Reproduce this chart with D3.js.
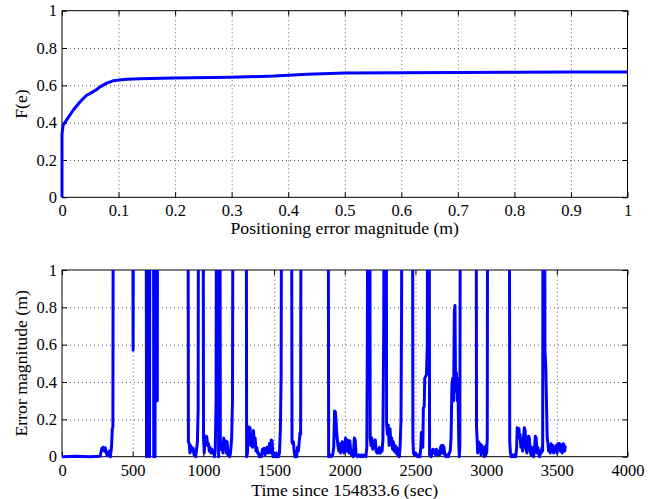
<!DOCTYPE html>
<html lang="en">
  <head>
    <meta charset="UTF-8" />
    <title>Positioning error CDF and error over time</title>
    <script src="https://d3js.org/d3.v7.min.js"></script>
    <style>
      body {
        margin: 0;
        background: #fff;
      }
      svg {
        display: block;
        font-family: 'Liberation Serif', 'Times New Roman', serif;
      }
      .axis path {
        display: none;
      }
      .axis line {
        stroke: #000;
        stroke-width: 1px;
      }
      .axis text {
        font-family: 'Liberation Serif', 'Times New Roman', serif;
        font-size: 16.5px;
        fill: #000;
      }
      .grid path {
        display: none;
      }
      .grid line {
        stroke: #333;
        stroke-width: 0.8px;
        stroke-dasharray: 1, 3;
      }
      .frame {
        fill: none;
        stroke: #000;
        stroke-width: 1px;
      }
      .curve {
        fill: none;
        stroke: #0000ff;
        stroke-width: 3px;
        stroke-linejoin: round;
      }
      .title {
        font-family: 'Liberation Serif', 'Times New Roman', serif;
        font-size: 17.7px;
        fill: #000;
      }
    </style>
  </head>
  <body>
    <div id="chart"></div>
    <script>
      // top panel: empirical CDF of the positioning error
      const cdfError = [
        0, 0, 0.002, 0.008, 0.02, 0.032, 0.044, 0.05, 0.06, 0.068,
        0.079, 0.09, 0.1, 0.115, 0.138, 0.197, 0.3, 0.375, 0.434,
        0.5, 0.6, 0.7, 0.8, 0.9, 1.0,
      ];
      const cdfProb = [
        0, 0.34, 0.387, 0.414, 0.468, 0.512, 0.548, 0.557, 0.575, 0.593,
        0.612, 0.624, 0.628, 0.632, 0.635, 0.639, 0.643, 0.65, 0.66,
        0.666, 0.668, 0.669, 0.67, 0.671, 0.672,
      ];
      const cdfXTicks = [0, 0.1, 0.2, 0.3, 0.4, 0.5, 0.6, 0.7, 0.8, 0.9, 1];
      const probTicks = [0, 0.2, 0.4, 0.6, 0.8, 1];

      // bottom panel: error magnitude over time [sec, m]; 2.5 = off the top
      const errorSeries = [
        [0, 0], [100, 0.002], [200, 0], [270, 0.003], [282, 0.045], [292, 0.05],
        [300, 0.03], [306, 0.048], [314, 0.02], [320, 0.005], [328, 0.02],
        [336, 0.03], [342, 0], [350, 0.05], [356, 0.15], [360, 0.16], [364, 2.5],
        [498, 2.5], [503, 0.57], [508, 2.5],
        [594, 2.5], [598, 0], [603, 0.01], [607, 2.5], [616, 2.5], [619, 0],
        [623, 2.5], [646, 2.5], [649, 0], [654, 0.1], [658, 0], [662, 2.5],
        [668, 2.5], [671, 0.44], [674, 0.3], [677, 2.5],
        [890, 2.5], [894, 0.08], [900, 0.07], [905, 0.02], [910, 0.06],
        [916, 0.05], [922, 0.03], [928, 0.045], [934, 0.01], [940, 0.03],
        [946, 0], [952, 0.04], [958, 0.08], [963, 0.26], [967, 2.5],
        [997, 2.5], [1001, 0.1], [1006, 0.02], [1012, 0.1], [1018, 0.11],
        [1024, 0.108], [1030, 0.06], [1036, 0.07], [1042, 0.03], [1048, 0.05],
        [1054, 0.02], [1060, 0.04], [1066, 0.02], [1072, 0.03], [1078, 0],
        [1084, 0.03], [1090, 0.3], [1094, 2.5], [1104, 2.5], [1108, 0],
        [1112, 2.5], [1116, 2.5], [1120, 0.08], [1126, 0.04], [1132, 0.07],
        [1138, 0.02], [1144, 0.1], [1150, 0.05], [1156, 0.085], [1162, 0.02],
        [1168, 0.08], [1174, 0.01], [1180, 0.03], [1186, 0], [1192, 0.02],
        [1200, 0.1], [1206, 0.3], [1212, 2.5],
        [1302, 2.5], [1306, 0], [1312, 0.02], [1318, 0.16], [1324, 0.1],
        [1330, 0.155], [1336, 0.06], [1342, 0.11], [1348, 0.05], [1354, 0.14],
        [1360, 0.08], [1366, 0.1], [1372, 0.03], [1378, 0.05], [1384, 0.02],
        [1390, 0.02], [1396, 0], [1402, 0.01], [1410, 0], [1418, 0.04],
        [1424, 0.02], [1430, 0.045], [1436, 0.01], [1444, 0.03], [1450, 0.05],
        [1456, 0.02], [1462, 0.04], [1468, 0.07], [1474, 0.02], [1480, 0.09],
        [1486, 0.085], [1492, 0], [1500, 0.01], [1508, 0], [1516, 0.02],
        [1522, 0], [1530, 0], [1538, 0.02], [1545, 0.15], [1550, 0.44],
        [1556, 2.5],
        [1622, 2.5], [1627, 0.08], [1632, 0.07], [1637, 0.08], [1642, 0.03],
        [1648, 0], [1654, 0.02], [1660, 0], [1666, 0.05], [1672, 0.03],
        [1678, 0.08], [1684, 0.13], [1688, 0.12], [1692, 2.5],
        [1882, 2.5], [1886, 0], [1895, 0.01], [1905, 0], [1915, 0.01],
        [1922, 0.05], [1928, 0.245], [1934, 0.24], [1940, 0.17], [1946, 0.1],
        [1952, 0.06], [1958, 0.03], [1964, 0.07], [1970, 0.02], [1976, 0.05],
        [1982, 0.08], [1988, 0.04], [1994, 0.02], [2000, 0.06], [2006, 0.1],
        [2012, 0.03], [2018, 0.09], [2024, 0.07], [2030, 0.02], [2036, 0.085],
        [2042, 0.03], [2048, 0.01], [2054, 0.02], [2060, 0], [2068, 0.1],
        [2074, 0.09], [2080, 0.01], [2090, 0], [2100, 0.01], [2110, 0],
        [2120, 0.01], [2130, 0], [2140, 0.01], [2150, 0], [2156, 0.05],
        [2160, 0.64], [2164, 2.5], [2176, 2.5], [2180, 0.1], [2186, 0.06],
        [2192, 0.1], [2198, 0.04], [2204, 0.08], [2210, 0.05], [2216, 0.09],
        [2222, 0.03], [2228, 0.02], [2234, 0.04], [2240, 0.02], [2246, 0.05],
        [2252, 0.02], [2258, 0.04], [2264, 0.03], [2270, 0.09], [2276, 0.72],
        [2280, 2.5], [2292, 2.5], [2296, 0.18], [2302, 0.12], [2308, 0.17],
        [2314, 0.06], [2320, 0.15], [2326, 0.08], [2332, 0.1], [2338, 0.04],
        [2344, 0.08], [2350, 0.03], [2356, 0.06], [2362, 0.02], [2368, 0.05],
        [2374, 0.01], [2380, 0.03], [2386, 0], [2392, 0.06], [2398, 0.2],
        [2402, 0.8], [2406, 2.5],
        [2478, 2.5], [2482, 0.1], [2486, 0.02], [2492, 0.01], [2500, 0.02],
        [2508, 0.01], [2516, 0], [2524, 0.01], [2532, 0], [2538, 0.05],
        [2542, 0.13], [2548, 0.12], [2552, 0.05], [2556, 0.26], [2562, 0.27],
        [2566, 0.42], [2572, 0.43], [2578, 0.44], [2584, 0.6], [2588, 2.5],
        [2596, 2.5], [2600, 0.01], [2606, 0.02], [2612, 0], [2618, 0.03],
        [2624, 0.04], [2630, 0.02], [2636, 0.035], [2642, 0.01], [2648, 0.04],
        [2654, 0.02], [2660, 0.01], [2666, 0.03], [2672, 0.01], [2678, 0.05],
        [2684, 0.06], [2690, 0.02], [2696, 0.06], [2702, 0.05], [2708, 0.01],
        [2716, 0], [2724, 0.01], [2732, 0], [2740, 0.02], [2746, 0.03],
        [2752, 0.1], [2758, 0.38], [2764, 0.42], [2770, 0.3], [2775, 0.78],
        [2780, 0.81], [2784, 0.35], [2790, 0.45], [2796, 0.3], [2800, 0.42],
        [2806, 0.1], [2810, 0], [2814, 0.05], [2820, 2.5],
        [2928, 2.5], [2932, 0.16], [2936, 0.1], [2940, 0.02], [2946, 0.08],
        [2952, 0.03], [2958, 0.07], [2964, 0.01], [2970, 0.06], [2976, 0.02],
        [2982, 0.05], [2988, 0], [2994, 0.04], [3000, 0.06], [3004, 0.02],
        [3008, 0.1], [3012, 2.5],
        [3163, 2.5], [3167, 0.08], [3172, 0.02], [3178, 0], [3186, 0.01],
        [3194, 0], [3202, 0.01], [3210, 0], [3216, 0.05], [3220, 0.155],
        [3226, 0.14], [3232, 0.15], [3236, 0.1], [3240, 0.12], [3246, 0.05],
        [3252, 0.09], [3258, 0.03], [3264, 0.1], [3270, 0.155], [3276, 0.14],
        [3282, 0.04], [3288, 0.02], [3294, 0.06], [3300, 0.11], [3306, 0.1],
        [3312, 0.03], [3318, 0.01], [3324, 0.05], [3330, 0.02], [3336, 0],
        [3342, 0.04], [3348, 0.11], [3354, 0.1], [3360, 0.02], [3366, 0.05],
        [3372, 0.02], [3378, 0], [3384, 0.03], [3390, 0.02], [3396, 0.05],
        [3400, 0.03], [3404, 2.5], [3412, 2.5], [3416, 0.57], [3422, 0.48],
        [3428, 0.25], [3432, 0.1], [3436, 0.08], [3442, 0.03], [3448, 0.05],
        [3454, 0.02], [3460, 0.07], [3466, 0.03], [3472, 0.06], [3478, 0.02],
        [3484, 0.05], [3490, 0.03], [3496, 0.06], [3502, 0.02], [3508, 0.07],
        [3514, 0.04], [3520, 0.07], [3526, 0.03], [3532, 0.06], [3538, 0.02],
        [3544, 0.07], [3550, 0.065], [3556, 0.03], [3560, 0.06],
      ];
      const timeTicks = [0, 500, 1000, 1500, 2000, 2500, 3000, 3500, 4000];

      const W = 651,
        H = 499;

      const svg = d3
        .select('#chart')
        .append('svg')
        .attr('width', W)
        .attr('height', H);

      const fmtDec = (d) => String(+d.toFixed(1));

      function panel(box, xDomain, xTicks, xFmt, xPad, data, xLabel, yLabel, id) {
        const x = d3.scaleLinear().domain(xDomain).range([box.l, box.r]);
        const y = d3.scaleLinear().domain([0, 1]).range([box.b, box.t]);
        const w = box.r - box.l,
          h = box.b - box.t;

        // dotted grid
        svg
          .append('g')
          .attr('class', 'grid')
          .attr('transform', `translate(0,${box.b})`)
          .call(d3.axisBottom(x).tickValues(xTicks.slice(1, -1)).tickSize(-h).tickFormat(''));
        svg
          .append('g')
          .attr('class', 'grid')
          .attr('transform', `translate(${box.l},0)`)
          .call(d3.axisLeft(y).tickValues(probTicks.slice(1, -1)).tickSize(-w).tickFormat(''));

        // the line, clipped to the box (a bit of slack at the bottom)
        svg
          .append('clipPath')
          .attr('id', id)
          .append('rect')
          .attr('x', box.l - 3)
          .attr('y', box.t)
          .attr('width', w + 6)
          .attr('height', h + 4);

        const line = d3
          .line()
          .x((d) => x(d[0]))
          .y((d) => y(d[1]));

        // inward ticks on all four sides
        svg
          .append('g')
          .attr('class', 'axis')
          .attr('transform', `translate(0,${box.b})`)
          .call(d3.axisBottom(x).tickValues(xTicks).tickSize(-5).tickPadding(xPad).tickFormat(xFmt));
        svg
          .append('g')
          .attr('class', 'axis')
          .attr('transform', `translate(0,${box.t})`)
          .call(d3.axisTop(x).tickValues(xTicks).tickSize(-5).tickFormat(''));
        svg
          .append('g')
          .attr('class', 'axis')
          .attr('transform', `translate(${box.l},0)`)
          .call(d3.axisLeft(y).tickValues(probTicks).tickSize(-5).tickPadding(5).tickFormat(fmtDec));
        svg
          .append('g')
          .attr('class', 'axis')
          .attr('transform', `translate(${box.r},0)`)
          .call(d3.axisRight(y).tickValues(probTicks).tickSize(-5).tickFormat(''));

        svg
          .append('rect')
          .attr('class', 'frame')
          .attr('x', box.l)
          .attr('y', box.t)
          .attr('width', w)
          .attr('height', h);

        svg
          .append('path')
          .datum(data)
          .attr('class', 'curve')
          .attr('clip-path', `url(#${id})`)
          .attr('d', line);

        svg
          .append('text')
          .attr('class', 'title')
          .attr('x', (box.l + box.r) / 2)
          .attr('y', xLabel.y)
          .attr('text-anchor', 'middle')
          .text(xLabel.text);

        svg
          .append('text')
          .attr('class', 'title')
          .attr('transform', `translate(${yLabel.x},${(box.t + box.b) / 2}) rotate(-90)`)
          .attr('text-anchor', 'middle')
          .text(yLabel.text);
      }

      panel(
        { l: 62, r: 627.5, t: 10.7, b: 197.3 },
        [0, 1],
        cdfXTicks,
        fmtDec,
        6.5,
        cdfError.map((e, i) => [e, cdfProb[i]]),
        { text: 'Positioning error magnitude (m)', y: 234 },
        { text: 'F(e)', x: 27 },
        'clipTop',
      );

      panel(
        { l: 62, r: 627.5, t: 270, b: 456.7 },
        [0, 4000],
        timeTicks,
        (d) => String(d),
        7.5,
        errorSeries,
        { text: 'Time since 154833.6 (sec)', y: 495.5 },
        { text: 'Error magnitude (m)', x: 27 },
        'clipBottom',
      );
    </script>
  </body>
</html>
